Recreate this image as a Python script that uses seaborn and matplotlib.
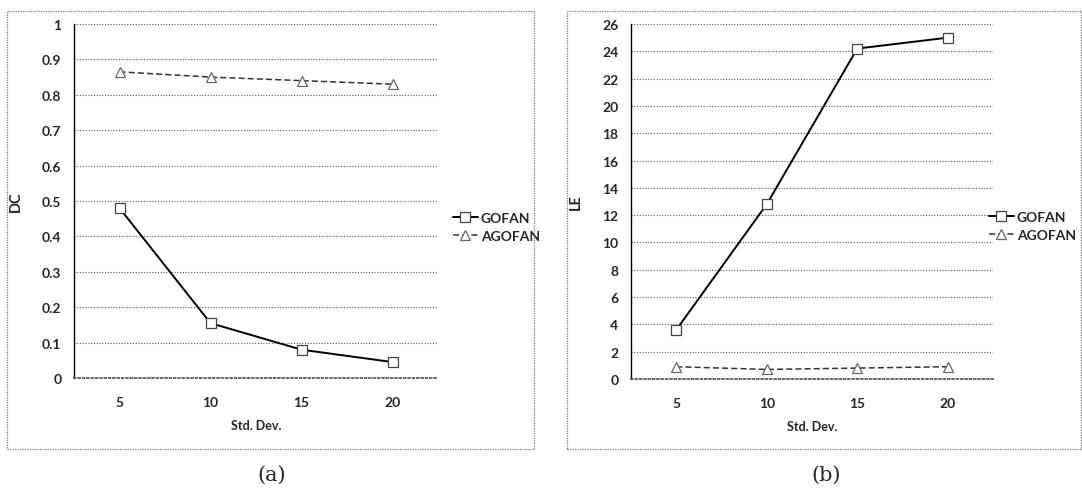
import matplotlib
matplotlib.use("Agg")
import matplotlib.pyplot as plt
import seaborn as sns
import pandas as pd
from matplotlib.patches import Rectangle
from matplotlib.ticker import FuncFormatter

# ---- data ----
std_dev = ["5", "10", "15", "20"]
dc_gofan = [0.48, 0.155, 0.08, 0.045]
dc_agofan = [0.865, 0.85, 0.84, 0.83]
le_gofan = [3.6, 12.8, 24.2, 25.0]
le_agofan = [0.9, 0.7, 0.8, 0.9]
series_names = ["GOFAN", "AGOFAN"]
dc_ticks = [0, 0.1, 0.2, 0.3, 0.4, 0.5, 0.6, 0.7, 0.8, 0.9, 1]
le_ticks = list(range(0, 27, 2))

sns.set_theme(style="white")
plt.rcParams['font.family'] = ['Lato', 'DejaVu Sans']

W, H = 1082, 489
fig = plt.figure(figsize=(W / 100, H / 100), dpi=100)

def fr(x0, y0, x1, y1):
    return [x0 / W, 1 - y1 / H, (x1 - x0) / W, (y1 - y0) / H]

# panel frames
for (x0, y0, x1, y1) in [(7, 12, 534, 450), (567, 12, 1081, 450)]:
    fig.patches.append(Rectangle((x0 / W, 1 - y1 / H), (x1 - x0) / W, (y1 - y0) / H,
                                 transform=fig.transFigure, fill=False,
                                 edgecolor="#777777", linewidth=0.9, linestyle=(0, (1, 1))))

def panel(rect, g, a, ylabel, yticks, ymax, leg_xy, caption, cap_x):
    ax = fig.add_axes(fr(*rect))
    x = list(range(len(std_dev)))
    df = pd.DataFrame({"x": x * 2, "y": g + a,
                       "series": [series_names[0]] * 4 + [series_names[1]] * 4})
    sns.lineplot(data=df[df.series == "GOFAN"], x="x", y="y", ax=ax, color="black",
                 linewidth=1.4, marker="s", markersize=6.5, markerfacecolor="white",
                 markeredgecolor="#444444", markeredgewidth=0.9, label="GOFAN", legend=False)
    sns.lineplot(data=df[df.series == "AGOFAN"], x="x", y="y", ax=ax, color="#333333",
                 linewidth=1.1, linestyle=(0, (4, 2)), marker="^", markersize=6.5,
                 markerfacecolor="white", markeredgecolor="#666666", markeredgewidth=0.9,
                 label="AGOFAN", legend=False)
    ax.set_xlim(-0.5, 3.5)
    ax.set_ylim(0, ymax)
    ax.set_xticks(x)
    ax.set_xticklabels(std_dev)
    ax.set_yticks(yticks)
    ax.yaxis.set_major_formatter(FuncFormatter(lambda v, p: f"{v:g}"))
    ax.grid(axis="y", color="#555555", linestyle=(0, (1, 1.5)), linewidth=0.8)
    for s in ["top", "right"]:
        ax.spines[s].set_visible(False)
    ax.spines["left"].set_color("black")
    ax.spines["left"].set_linewidth(1.0)
    ax.spines["bottom"].set_color("#555555")
    ax.spines["bottom"].set_linestyle((0, (1, 1.5)))
    ax.tick_params(axis="y", labelsize=10, length=0, pad=9)
    ax.tick_params(axis="x", labelsize=10, length=0, pad=13)
    for lab in ax.get_xticklabels() + ax.get_yticklabels():
        lab.set_fontweight("bold")
    ax.set_xlabel("Std. Dev.", fontsize=9, fontweight="bold", labelpad=8)
    ax.set_ylabel(ylabel, fontsize=10.5, fontweight="bold", labelpad=14)
    ax.legend(loc="center left", bbox_to_anchor=(leg_xy[0] / W, 1 - leg_xy[1] / H),
              bbox_transform=fig.transFigure, frameon=False, borderpad=0,
              handlelength=1.8, handletextpad=0.2, labelspacing=0.45,
              prop={"weight": "bold", "size": 10})
    fig.text(cap_x / W, 1 - 475 / H, caption, ha="center", va="center",
             fontsize=15, family="DejaVu Serif")
    return ax

panel((74, 25, 438, 379), dc_gofan, dc_agofan, "DC", dc_ticks, 1.0, (446, 228), "(a)", 272)
panel((631, 25, 993, 380), le_gofan, le_agofan, "LE", le_ticks, 26, (982, 227), "(b)", 826)

fig.savefig("out.png", dpi=100)
